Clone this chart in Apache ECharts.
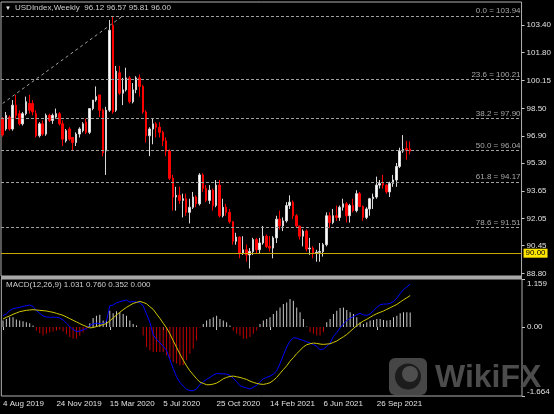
<!DOCTYPE html>
<html><head><meta charset="utf-8">
<script src="https://cdn.jsdelivr.net/npm/echarts@6/dist/echarts.min.js"></script>
<style>html,body{margin:0;padding:0;background:#000}#c{width:554px;height:414px}</style>
</head><body><div id="c"></div>
<script>
const symbolName = 'USDIndex,Weekly';
const lastQuote = ['96.12', '96.57', '95.81', '96.00'];
const firstWeek = [2019, 7, 4];
const totalSlots = 156;

const opens = [97.90,97.30,98.00,97.30,98.70,98.20,97.60,98.20,98.80,98.80,
98.20,96.90,97.60,97.00,98.10,97.80,98.00,98.20,97.60,96.60,
97.30,96.80,96.50,97.00,97.20,97.70,97.10,98.50,99.00,99.30,
98.40,96.00,98.40,103.40,98.40,100.60,99.40,99.60,100.30,98.90,
99.60,100.30,99.80,98.30,96.90,97.30,97.60,97.40,97.10,96.60,
96.00,94.40,93.30,93.40,93.10,93.20,92.40,92.70,93.30,92.90,
94.60,93.80,93.10,93.70,92.80,94.00,92.20,92.70,92.40,91.85,
90.70,90.95,90.00,90.20,89.90,90.10,90.80,90.20,90.60,91.00,
90.40,90.30,90.90,92.00,91.60,91.90,92.80,93.00,92.20,91.60,
91.00,91.30,90.25,90.30,90.00,90.05,90.10,90.50,92.20,91.80,
92.20,92.10,92.70,92.90,92.20,92.80,92.50,93.50,92.75,92.10,
92.60,93.20,93.30,94.00,94.10,94.00,93.60,94.10,94.30,95.10,
96.00,96.15,96.12];
const highs = [98.00,98.30,98.10,99.00,99.30,98.40,98.30,99.20,99.30,99.00,
98.40,97.70,97.80,98.20,98.20,98.20,98.50,98.30,97.80,97.30,
97.40,96.80,97.10,97.40,97.70,97.90,98.50,99.00,99.80,99.30,
98.50,98.60,103.70,103.94,101.00,101.00,100.30,100.90,100.40,100.00,
100.40,100.50,99.90,98.40,97.40,97.90,97.70,97.70,97.20,96.80,
96.10,94.60,93.90,93.90,93.50,93.50,93.20,93.60,93.40,94.70,
94.70,94.00,94.00,93.80,94.30,94.30,93.20,92.90,92.60,91.90,
91.20,91.00,91.00,90.50,90.30,90.90,90.90,90.90,91.60,91.10,
91.00,91.00,92.20,92.50,92.10,93.00,93.40,93.10,92.30,91.60,
91.40,91.40,90.90,90.40,90.20,90.60,90.60,92.40,92.40,92.60,
92.80,92.80,93.20,93.00,92.90,93.20,93.70,93.60,92.80,92.70,
93.25,93.50,94.50,94.30,94.60,94.05,94.20,94.60,95.30,96.20,
96.94,96.60,96.57];
const lows = [96.85,97.20,97.20,97.20,97.90,97.50,97.50,98.10,98.20,98.10,
96.80,96.80,96.90,96.90,97.70,97.60,97.90,97.50,96.30,96.50,
96.60,96.00,96.30,96.80,97.10,97.00,97.00,98.40,98.90,98.00,
95.70,94.60,98.30,98.20,98.30,99.30,98.70,99.50,98.80,98.80,
99.40,99.20,98.20,96.50,95.70,96.40,96.80,96.80,96.30,95.70,
94.30,92.50,92.50,92.90,92.10,92.20,91.75,92.60,92.70,92.80,
93.60,93.00,92.90,92.50,92.70,92.10,92.10,92.20,91.75,90.50,
90.50,89.70,89.90,89.50,89.10,89.90,90.00,90.00,90.50,90.30,
90.10,89.70,90.60,91.40,91.30,91.80,92.60,92.00,91.50,90.80,
90.40,90.10,89.90,89.70,89.50,89.50,89.80,90.40,91.50,91.70,
91.90,91.90,92.50,91.80,91.80,92.40,92.40,92.70,91.90,92.00,
92.20,92.60,93.20,93.80,93.80,93.50,93.30,93.90,93.90,95.00,
95.90,95.50,95.81];
const closes = [96.95,98.10,97.30,98.70,98.10,97.60,98.20,98.90,98.40,98.30,
96.90,97.60,97.00,98.10,97.80,98.10,98.20,97.60,96.70,97.20,
96.70,96.50,97.00,97.30,97.60,97.10,98.50,99.00,99.20,98.40,
95.90,98.40,103.10,98.30,100.70,99.40,99.60,100.30,98.90,99.60,
100.30,99.80,98.30,96.90,97.30,97.60,97.40,97.10,96.60,96.00,
94.40,93.30,93.40,93.10,93.20,92.40,92.70,93.30,92.90,94.60,
93.80,93.10,93.70,92.80,94.00,92.20,92.70,92.40,91.85,90.70,
90.95,90.00,90.20,89.90,90.10,90.80,90.20,90.60,91.00,90.40,
90.30,90.90,92.00,91.60,91.90,92.80,93.00,92.20,91.60,91.00,
91.30,90.25,90.30,90.00,90.05,90.10,90.50,92.20,91.80,92.20,
92.10,92.70,92.90,92.20,92.80,92.50,93.50,92.75,92.10,92.60,
93.20,93.30,94.00,94.10,94.00,93.60,94.10,94.30,95.10,96.00,
96.10,96.05,96.00];

const macdMain = [0.275,0.315,0.395,0.443,0.459,0.474,0.498,0.514,0.530,0.498,
0.395,0.331,0.267,0.243,0.235,0.235,0.235,0.219,0.171,0.092,
0.012,-0.060,-0.108,-0.100,-0.068,-0.036,0.036,0.076,0.092,0.084,
0.076,0.140,0.514,0.530,0.586,0.610,0.634,0.650,0.602,0.618,
0.602,0.586,0.514,0.315,0.116,-0.187,-0.299,-0.379,-0.467,-0.562,
-0.786,-1.001,-1.200,-1.336,-1.423,-1.503,-1.535,-1.535,-1.495,-1.384,
-1.320,-1.264,-1.216,-1.160,-1.120,-1.128,-1.128,-1.136,-1.168,-1.232,
-1.320,-1.415,-1.447,-1.471,-1.495,-1.455,-1.407,-1.320,-1.248,-1.216,
-1.184,-1.136,-1.057,-0.881,-0.682,-0.482,-0.339,-0.259,-0.267,-0.299,
-0.323,-0.355,-0.387,-0.419,-0.467,-0.546,-0.530,-0.467,-0.387,-0.227,
-0.132,-0.020,0.076,0.156,0.211,0.251,0.299,0.331,0.291,0.283,
0.315,0.395,0.474,0.538,0.554,0.554,0.570,0.618,0.698,0.809,
0.905,0.969,1.031];
const macdSignal = [0.195,0.235,0.267,0.307,0.339,0.371,0.387,0.403,0.411,0.419,
0.411,0.403,0.395,0.387,0.371,0.355,0.331,0.307,0.283,0.243,
0.203,0.163,0.124,0.084,0.044,0.012,-0.020,-0.012,0.012,0.036,
0.060,0.084,0.148,0.219,0.291,0.355,0.419,0.474,0.522,0.570,
0.594,0.618,0.594,0.562,0.490,0.427,0.315,0.211,0.092,-0.020,
-0.163,-0.331,-0.490,-0.650,-0.801,-0.937,-1.057,-1.152,-1.248,-1.328,
-1.360,-1.392,-1.392,-1.376,-1.352,-1.304,-1.248,-1.216,-1.192,-1.184,
-1.200,-1.216,-1.240,-1.264,-1.304,-1.336,-1.360,-1.376,-1.384,-1.368,
-1.344,-1.288,-1.216,-1.120,-1.025,-0.937,-0.825,-0.738,-0.642,-0.562,
-0.482,-0.427,-0.403,-0.387,-0.395,-0.411,-0.419,-0.411,-0.403,-0.371,
-0.339,-0.283,-0.235,-0.179,-0.108,-0.036,0.036,0.092,0.148,0.187,
0.235,0.283,0.323,0.355,0.387,0.427,0.466,0.506,0.546,0.602,
0.658,0.706,0.760];
const macdHist = [0.155,0.195,0.235,0.235,0.179,0.155,0.140,0.116,0.092,0.036,
-0.084,-0.148,-0.203,-0.163,-0.132,-0.108,-0.084,-0.068,-0.108,-0.179,
-0.243,-0.283,-0.283,-0.211,-0.132,-0.052,0.092,0.219,0.275,0.299,
0.155,0.171,0.395,0.331,0.379,0.355,0.315,0.275,0.155,0.076,
0.036,0.000,-0.203,-0.482,-0.562,-0.602,-0.602,-0.602,-0.602,-0.682,
-0.762,-0.841,-0.881,-0.921,-0.921,-0.801,-0.642,-0.522,-0.323,-0.020,
0.076,0.155,0.195,0.235,0.275,0.195,0.155,0.116,0.036,-0.084,
-0.163,-0.203,-0.283,-0.283,-0.243,-0.163,-0.084,0.076,0.155,0.195,
0.235,0.315,0.395,0.474,0.554,0.594,0.674,0.634,0.474,0.355,
0.195,0.012,-0.124,-0.163,-0.203,-0.203,-0.124,0.116,0.195,0.315,
0.395,0.459,0.474,0.411,0.355,0.315,0.235,0.116,0.076,0.116,
0.155,0.171,0.195,0.195,0.171,0.155,0.171,0.235,0.275,0.331,
0.355,0.355,0.352];
const macdValuesText = ['1.031', '0.760', '0.352', '0.000'];

const fibRatios = ['0.0', '23.6', '38.2', '50.0', '61.8', '78.6'];
const fibLevels = [103.94, 100.21, 97.90, 96.04, 94.17, 91.51];
const fibTrend = [[0, 98.8], [36, 103.94]];
const supportLevel = 90.00;
const currentPrice = 96.00;

const priceTicks = [103.40, 101.80, 100.15, 98.50, 96.90, 95.30, 93.65, 92.05, 90.45, 88.80];
const macdTicks = [1.159, 0, -1.664];
const macdTickLabels = ['1.159', '0.00', '-1.664'];
const dateTickLabels = ['4 Aug 2019', '24 Nov 2019', '15 Mar 2020', '5 Jul 2020', '25 Oct 2020', '14 Feb 2021', '6 Jun 2021', '26 Sep 2021'];
const dateTickStep = 16;

// ---- build ----
const categories = [];
for (let i = 0; i < totalSlots; i++) {
  const d = new Date(firstWeek[0], firstWeek[1], firstWeek[2] + 7 * i);
  categories.push(d.getFullYear() + '-' + (d.getMonth() + 1) + '-' + d.getDate());
}
const candleData = opens.map((o, i) => [o, closes[i], lows[i], highs[i]]);
const FONT = 'Liberation Sans, Arial, sans-serif';
const LBL = '#e0e0e0';
const tickShown = (idx) => idx % dateTickStep === 0 && (idx / dateTickStep) < dateTickLabels.length;

const chart = echarts.init(document.getElementById('c'), null, {renderer: 'canvas'});
const fibMarks = fibLevels.map((v, i) => ({
  yAxis: v,
  lineStyle: {color: '#a0a0a0', type: [3, 2], width: 1},
  label: {show: true, position: 'insideEndTop', distance: 1, formatter: fibRatios[i] + ' = ' + v.toFixed(2),
    color: '#a8a8a8', fontSize: 8, fontFamily: FONT}
}));

chart.setOption({
  animation: false,
  backgroundColor: '#000000',
  textStyle: {fontFamily: FONT},
  grid: [
    {left: 1, right: 32, top: 2, height: 274, show: true, borderColor: '#b0b0b0', borderWidth: 1, backgroundColor: 'transparent'},
    {left: 1, right: 32, top: 279, height: 117, show: true, borderColor: '#b0b0b0', borderWidth: 1, backgroundColor: 'transparent'}
  ],
  xAxis: [
    {type: 'category', gridIndex: 0, data: categories, boundaryGap: true, show: false},
    {type: 'category', gridIndex: 1, data: categories, boundaryGap: true,
      axisLine: {show: false},
      axisTick: {show: true, alignWithLabel: true, interval: tickShown, length: 3, lineStyle: {color: '#c8c8c8'}},
      axisLabel: {show: true, interval: tickShown, align: 'left', margin: 4, color: LBL, fontSize: 8, fontFamily: FONT,
        formatter: (v, idx) => dateTickLabels[idx / dateTickStep] || ''},
      splitLine: {show: false}}
  ],
  yAxis: [
    {type: 'value', gridIndex: 0, position: 'right', min: 88.66, max: 104.76, scale: true,
      axisLine: {show: false},
      axisTick: {show: true, customValues: priceTicks, length: 3, lineStyle: {color: '#c8c8c8'}},
      axisLabel: {show: true, customValues: priceTicks, margin: 5, color: LBL, fontSize: 8, fontFamily: FONT,
        formatter: v => Number(v).toFixed(2)},
      splitLine: {show: false}},
    {type: 'value', gridIndex: 1, position: 'right', min: -1.664, max: 1.159,
      axisLine: {show: false},
      axisTick: {show: true, customValues: macdTicks, length: 3, lineStyle: {color: '#c8c8c8'}},
      axisLabel: {show: true, customValues: macdTicks, margin: 5, color: LBL, fontSize: 8, fontFamily: FONT,
        formatter: v => {
          const k = macdTicks.indexOf(Number(v));
          const t = macdTickLabels[k] ?? String(v);
          if (k === 0) return '{t|' + t + '}';
          if (k === macdTicks.length - 1) return '{b|' + t + '}';
          return '{m|' + t + '}';
        },
        rich: {
          t: {color: LBL, fontSize: 8, fontFamily: FONT, padding: [10, 0, 0, 0]},
          b: {color: LBL, fontSize: 8, fontFamily: FONT, padding: [0, 0, 9, 0]},
          m: {color: LBL, fontSize: 8, fontFamily: FONT}
        }},
      splitLine: {show: false}}
  ],
  series: [
    {type: 'line', xAxisIndex: 0, yAxisIndex: 0, data: fibTrend, symbol: 'none', silent: true, z: 1,
      lineStyle: {color: '#a0a0a0', width: 1, type: [3, 3]}},
    {type: 'candlestick', xAxisIndex: 0, yAxisIndex: 0, data: candleData, barWidth: 2,
      itemStyle: {color: '#ffffff', color0: '#ff0000', borderColor: '#d8d8d8', borderColor0: '#ff0000', borderWidth: 1},
      markLine: {symbol: ['none', 'none'], silent: true, animation: false, z: 3,
        data: fibMarks.concat([
          {yAxis: supportLevel, lineStyle: {color: '#c8a800', type: 'solid', width: 1},
            label: {show: true, position: 'end', distance: 2, formatter: supportLevel.toFixed(2), backgroundColor: '#ffe600',
              color: '#000', fontSize: 8, fontFamily: FONT, padding: [1, 2, 0, 2]}},
          {yAxis: currentPrice, lineStyle: {opacity: 0},
            label: {show: true, position: 'end', distance: 2, formatter: currentPrice.toFixed(2), backgroundColor: '#ffffff',
              color: '#000', fontSize: 8, fontFamily: FONT, padding: [1, 2, 0, 2]}}
        ])}},
    {type: 'bar', xAxisIndex: 1, yAxisIndex: 1, data: macdHist, barWidth: 1, silent: true,
      itemStyle: {color: p => p.value >= 0 ? '#c8c8c8' : '#c00000'}},
    {type: 'line', xAxisIndex: 1, yAxisIndex: 1, data: macdMain, symbol: 'none', silent: true,
      lineStyle: {color: '#0000ff', width: 1}},
    {type: 'line', xAxisIndex: 1, yAxisIndex: 1, data: macdSignal, symbol: 'none', silent: true,
      lineStyle: {color: '#d0c800', width: 1}}
  ],
  graphic: [
    {type: 'rect', shape: {x: 1, y: 276, width: 521, height: 3}, style: {fill: '#a8a8a8'}, z: 10},
    {type: 'text', left: 5, top: 5, style: {text: '▼', fill: '#e8e8e8', font: '6px ' + FONT}, z: 10},
    {type: 'text', left: 15, top: 4, style: {text: symbolName + '  ' + lastQuote.join(' '), fill: '#d0d0d0', font: '8px ' + FONT}, z: 10},
    {type: 'text', left: 6, top: 281, style: {text: 'MACD(12,26,9) ' + macdValuesText.join(' '), fill: '#d0d0d0', font: '8px ' + FONT}, z: 10},
    {type: 'group', z: 20, children: [
      {type: 'rect', shape: {x: 389, y: 358, width: 38, height: 37, r: 6}, style: {fill: '#4e4e4e', opacity: 0.9}},
      {type: 'circle', shape: {cx: 408, cy: 376.5, r: 13}, style: {fill: '#1c1c1c'}},
      {type: 'circle', shape: {cx: 410, cy: 374, r: 8}, style: {fill: '#4e4e4e'}},
      {type: 'text', style: {x: 435, y: 362, text: 'WikiFX', fill: '#505050', font: 'bold 32px ' + FONT, opacity: 0.95}}
    ]}
  ]
});
</script></body></html>
